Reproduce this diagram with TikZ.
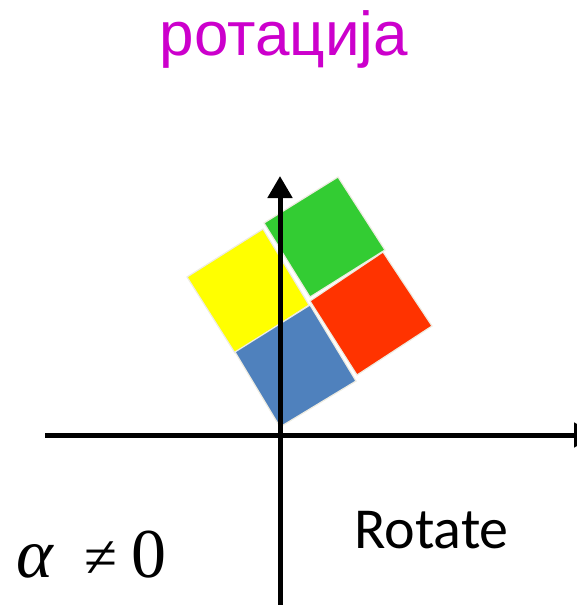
\documentclass[tikz,border=0pt]{standalone}
\usepackage{fontspec}
\setmainfont{Liberation Serif}
\newfontfamily\titlefont{Liberation Sans}
\newfontfamily\labelfont{Carlito}
\usetikzlibrary{arrows.meta}
\definecolor{tilered}{RGB}{255,51,0}
\definecolor{tilegreen}{RGB}{51,204,51}
\definecolor{tileblue}{RGB}{79,129,189}
\definecolor{tileyellow}{RGB}{255,255,0}
\definecolor{tileedge}{RGB}{238,236,225}
\definecolor{titlemagenta}{RGB}{204,0,204}
\tikzset{
  tile/.style={draw=tileedge, line width=1.2pt, line join=miter},
  axis/.style={line width=5pt, -{Triangle[width=24pt,length=22pt]}}
}
\begin{document}
\begin{tikzpicture}[x=1pt, y=-1pt]
    \useasboundingbox (0,0) rectangle (576,605);

    % Title
    \node[anchor=base, text=titlemagenta, inner sep=0pt] (title) at (284,55)
        {\titlefont\fontsize{62}{62}\selectfont ротација};

    % Rotated tiles (2x2 block)
    \filldraw[tile, fill=tileyellow] (187,277) -- (263,229) -- (309,305) -- (235,353) -- cycle;
    \filldraw[tile, fill=tilegreen] (264,223) -- (338,177) -- (385,250) -- (310,297) -- cycle;
    \filldraw[tile, fill=tilered] (310,301) -- (383,252) -- (432,326) -- (357,375) -- cycle;
    \filldraw[tile, fill=tileblue] (235,352) -- (310,305) -- (356,381) -- (280,427) -- cycle;

    % Axes
    \coordinate (xs) at (45,435);
    \coordinate (xe) at (596,435);
    \coordinate (ys) at (280,605);
    \coordinate (ye) at (280,176);
    \draw[axis] (xs) -- (xe);
    \draw[axis] (ys) -- (ye);

    % Labels
    \node[anchor=base west, inner sep=0pt] (rotlabel) at (354,548)
        {\labelfont\fontsize{58}{58}\selectfont Rotate};
    \node[anchor=base west, inner sep=0pt] (anglabel) at (16,577)
        {\fontsize{70}{70}\selectfont\textit{α}\hspace{30pt}{\fontsize{60}{60}\selectfont ≠}\hspace{14pt}0};
\end{tikzpicture}
\end{document}
